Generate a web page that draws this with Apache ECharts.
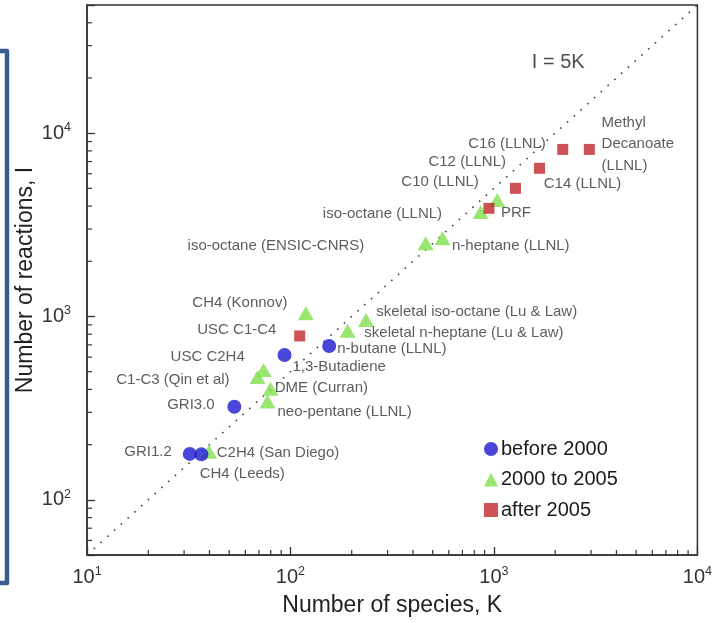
<!DOCTYPE html>
<html>
<head>
<meta charset="utf-8">
<script src="https://cdn.jsdelivr.net/npm/echarts@6/dist/echarts.min.js"></script>
<style>
  html, body {margin: 0; padding: 0; background: #fff;}
  #chart {width: 715px; height: 623px;}
</style>
</head>
<body>
<div id="chart"></div>
<script>
// number of species K, number of reactions I
const before2000 = [[32, 178], [36.5, 177], [53, 322], [93.5, 616], [155, 690]]
const from2000to2005 = [
  [39.8, 183], [68.9, 468], [73.8, 511], [77.1, 344], [79.8, 403],
  [119, 1040], [191, 837], [235, 957], [462, 2505], [559, 2667],
  [861, 3720], [1038, 4315],
]
const after2005 = [[111, 783], [945, 3890], [1276, 5000], [1675, 6430], [2178, 8150], [2944, 8150]]

// I = 5K reference line
const refK = [10, 10000]
const refI = [50, 50000]

// mechanism names, anchored in data units (K, I) with text alignment
const mechLabels = [
  [3381, 8710, 'Methyl\nDecanoate\n(LLNL)', 'left'],
  [1799, 8710, 'C16 (LLNL)', 'right'],
  [1146, 6950, 'C12 (LLNL)', 'right'],
  [843, 5410, 'C10 (LLNL)', 'right'],
  [556, 3622, 'iso-octane (LLNL)', 'right'],
  [1758, 5272, 'C14 (LLNL)', 'left'],
  [1082, 3664, 'PRF', 'left'],
  [622, 2421, 'n-heptane (LLNL)', 'left'],
  [230.6, 2421, 'iso-octane (ENSIC-CNRS)', 'right'],
  [96.6, 1186, 'CH4 (Konnov)', 'right'],
  [85.3, 844, 'USC C1-C4', 'right'],
  [59.6, 601, 'USC C2H4', 'right'],
  [50.2, 451, 'C1-C3 (Qin et al)', 'right'],
  [42.4, 330, 'GRI3.0', 'right'],
  [26.1, 183, 'GRI1.2', 'right'],
  [43.4, 180, 'C2H4 (San Diego)', 'left'],
  [35.8, 139, 'CH4 (Leeds)', 'left'],
  [102.3, 531, '1,3-Butadiene', 'left'],
  [83.6, 408, 'DME (Curran)', 'left'],
  [86.3, 302, 'neo-pentane (LLNL)', 'left'],
  [169.8, 665, 'n-butane (LLNL)', 'left'],
  [264, 1059, 'skeletal iso-octane (Lu & Law)', 'left'],
  [230.6, 813, 'skeletal n-heptane (Lu & Law)', 'left'],
]

const xRange = [10, 10000]
const yRange = [50, 50000]
const minorSteps = [2, 3, 4, 5, 6, 7, 8, 9]

const font = "'Liberation Sans', Arial, sans-serif"

// minor tick values inside the axis ranges
const minorTicks = function (range) {
  const list = []
  for (let d = 1; d <= 5; d++) {
    minorSteps.forEach(m => {
      const v = m * Math.pow(10, d)
      if (v > range[0] && v < range[1]) list.push(v)
    })
  }
  return list
}

const isDecade = function (v) {
  const e = Math.log10(v)
  return Math.abs(e - Math.round(e)) < 1e-6
}

const powLabel = function (v) {
  if (!isDecade(v)) return ''
  return '{b|10}{s|' + Math.round(Math.log10(v)) + '}'
}

const labelRich = {
  b: {fontSize: 20, fontFamily: font, color: '#333'},
  s: {fontSize: 12.5, fontFamily: font, color: '#333', padding: [0, 0, 11, 0]},
}

const chart = echarts.init(document.getElementById('chart'))

chart.setOption({
  animation: false,
  grid: {
    left: 87, right: 16, top: 5, bottom: 68,
    show: true, borderColor: '#333', borderWidth: 1.5,
  },
  xAxis: {
    type: 'log', logBase: 10, min: xRange[0], max: xRange[1],
    name: 'Number of species, K', nameLocation: 'middle', nameGap: 39, nameMoveOverlap: false,
    nameTextStyle: {fontSize: 23, fontFamily: font, color: '#222'},
    axisLine: {lineStyle: {color: '#333', width: 1.5}},
    axisTick: {inside: true, length: 8, lineStyle: {color: '#333', width: 1.3}},
    axisLabel: {formatter: powLabel, rich: labelRich, margin: 10, showMinLabel: true, showMaxLabel: true},
    splitLine: {show: false},
  },
  yAxis: {
    type: 'log', logBase: 10, min: yRange[0], max: yRange[1],
    name: 'Number of reactions, I', nameLocation: 'middle', nameGap: 50, nameMoveOverlap: false,
    nameTextStyle: {fontSize: 23, fontFamily: font, color: '#222'},
    axisLine: {lineStyle: {color: '#333', width: 1.5}},
    axisTick: {inside: true, length: 8, lineStyle: {color: '#333', width: 1.3}},
    axisLabel: {formatter: powLabel, rich: labelRich, margin: 16},
    splitLine: {show: false},
  },
  legend: {
    data: ['before 2000', '2000 to 2005', 'after 2005'],
    orient: 'vertical', left: 479, top: 434,
    itemWidth: 14, itemHeight: 14, itemGap: 10.5,
    textStyle: {fontSize: 20, fontFamily: font, color: '#1a1a1a', padding: [0, 0, 0, -2]},
  },
  graphic: [{
    type: 'polyline',
    shape: {points: [[0, 51], [7, 51], [7, 583], [0, 583]]},
    style: {stroke: '#385d8f', lineWidth: 4.5, fill: null, lineJoin: 'round'},
  }],
  series: [
    {
      type: 'line', name: 'I = 5K', silent: true, symbol: 'none',
      data: refK.map((k, i) => [k, refI[i]]),
      lineStyle: {color: '#444', width: 1.6, type: [1.6, 7.5]},
      z: 1,
    },
    {
      type: 'custom', silent: true, clip: false,
      data: minorTicks(xRange).map(v => [v, yRange[0]]),
      renderItem: function (params, api) {
        const p = api.coord([api.value(0), yRange[0]])
        return {type: 'line', shape: {x1: p[0], y1: p[1], x2: p[0], y2: p[1] - 5},
          style: {stroke: '#333', lineWidth: 1.2}}
      },
      z: 3,
    },
    {
      type: 'custom', silent: true, clip: false,
      data: minorTicks(yRange).map(v => [xRange[0], v]),
      renderItem: function (params, api) {
        const p = api.coord([xRange[0], api.value(1)])
        return {type: 'line', shape: {x1: p[0], y1: p[1], x2: p[0] + 5, y2: p[1]},
          style: {stroke: '#333', lineWidth: 1.2}}
      },
      z: 3,
    },
    {
      type: 'scatter', name: 'before 2000', data: before2000,
      symbol: 'circle', symbolSize: 14,
      itemStyle: {color: '#1d18cf'}, z: 5,
    },
    {
      type: 'scatter', name: '2000 to 2005', data: from2000to2005,
      symbol: 'triangle', symbolSize: [16, 14],
      itemStyle: {color: '#80e14e'}, z: 4,
    },
    {
      type: 'scatter', name: 'after 2005', data: after2005,
      symbol: 'rect', symbolSize: 11,
      itemStyle: {color: '#c2252b'}, z: 6,
    },
    {
      type: 'scatter', silent: true, symbolSize: 0,
      data: mechLabels.map(([k, i, text, align]) => ({
        value: [k, i], name: text,
        label: {align: align},
      })),
      label: {
        show: true, position: [0, 0], verticalAlign: 'middle',
        formatter: p => p.name,
        fontSize: 15, fontFamily: font, color: '#333', lineHeight: 21.5,
      },
      z: 7,
    },
    {
      type: 'scatter', silent: true, symbolSize: 0,
      data: [{value: [1535, 24380], name: 'I = 5K'}],
      label: {
        show: true, position: [0, 0], align: 'left', verticalAlign: 'middle',
        formatter: p => p.name,
        fontSize: 20, fontFamily: font, color: '#222',
      },
      z: 7,
    },
  ],
})
</script>
</body>
</html>
